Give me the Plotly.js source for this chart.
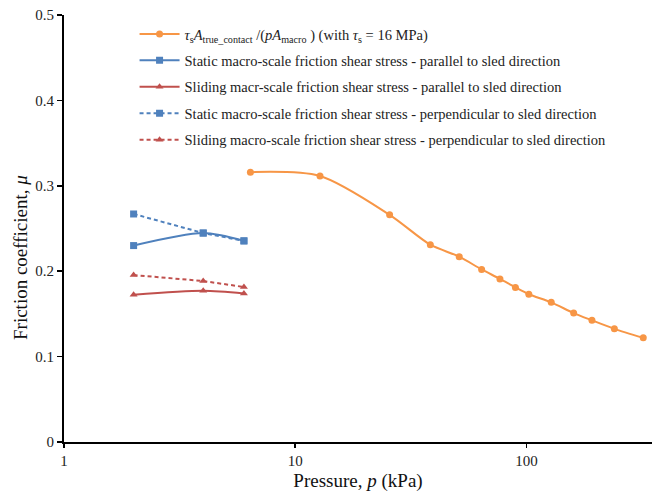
<!DOCTYPE html>
<html>
<head>
<meta charset="utf-8">
<script src="https://cdn.plot.ly/plotly-3.0.1.min.js"></script>
<style>
  html, body { margin: 0; padding: 0; background: #fff; }
  #chart { width: 652px; height: 497px; }
</style>
</head>
<body>
<div id="chart"></div>
<script>
// Pressure (kPa) and friction coefficient for the true-contact model
const modelPressure = [6.4, 12.8, 25.6, 38.4, 51.2, 64, 76.8, 89.6, 102.4, 128, 160, 192, 240, 320];
const modelMu = [0.316, 0.3115, 0.266, 0.231, 0.217, 0.202, 0.191, 0.181, 0.173, 0.1635, 0.151, 0.1425, 0.1325, 0.122];

// Sled test pressures (kPa)
const sledPressure = [2, 4, 6];
const staticParallel = [0.230, 0.2447, 0.2355];
const slidingParallel = [0.1725, 0.177, 0.174];
const staticPerpendicular = [0.267, 0.2447, 0.2355];
const slidingPerpendicular = [0.1955, 0.1885, 0.1815];

const seriesNames = [
  '<i>τ</i><sub>s</sub><i>A</i><sub>true_contact</sub> /(<i>pA</i><sub>macro</sub> ) (with <i>τ</i><sub>s</sub> = 16 MPa)',
  'Static macro-scale friction shear stress - parallel to sled direction',
  'Sliding macr-scale friction shear stress - parallel to sled direction',
  'Static macro-scale friction shear stress - perpendicular to sled direction',
  'Sliding macro-scale friction shear stress - perpendicular to sled direction'
];

const serif = 'Liberation Serif, Times New Roman, serif';
const orange = '#F79646';
const blue = '#4F81BD';
const red = '#C0504D';

const traces = [
  {
    x: modelPressure, y: modelMu, name: seriesNames[0], legendgroup: 'a',
    mode: 'lines+markers', line: {color: orange, width: 2, shape: 'spline', smoothing: 0.8},
    marker: {symbol: 'circle', size: 7, color: orange}
  },
  {
    x: sledPressure, y: staticParallel, name: seriesNames[1], legendgroup: 'b',
    mode: 'lines+markers', line: {color: blue, width: 2, shape: 'spline', smoothing: 0.8},
    marker: {symbol: 'square', size: 7, color: blue}
  },
  {
    x: sledPressure, y: slidingParallel, name: seriesNames[2], legendgroup: 'c',
    mode: 'lines+markers', line: {color: red, width: 2, shape: 'spline', smoothing: 0.8},
    marker: {symbol: 'triangle-up', size: 7, color: red}
  },
  {
    x: sledPressure, y: staticPerpendicular, name: seriesNames[3], legendgroup: 'd',
    mode: 'lines+markers', line: {color: blue, width: 2, dash: '4px,3px'},
    marker: {symbol: 'square', size: 7, color: blue}
  },
  {
    x: sledPressure, y: slidingPerpendicular, name: seriesNames[4], legendgroup: 'e',
    mode: 'lines+markers', line: {color: red, width: 2, dash: '4px,3px'},
    marker: {symbol: 'triangle-up', size: 7, color: red}
  }
];

const layout = {
  width: 652, height: 497,
  margin: {l: 64, r: 0, t: 15, b: 55},
  paper_bgcolor: '#fff', plot_bgcolor: '#fff',
  font: {family: serif, color: '#222', size: 14},
  showlegend: true,
  legend: {
    x: 0.12, y: 0.993, xanchor: 'left', yanchor: 'top',
    bgcolor: 'rgba(0,0,0,0)', borderwidth: 0,
    font: {family: serif, size: 14.5, color: '#222'},
    traceorder: 'grouped', tracegroupgap: 4.6, itemwidth: 40
  },
  xaxis: {
    type: 'log', range: [0, 2.543], autorange: false,
    tickvals: [1, 10, 100], ticktext: ['1', '10', '100'],
    showgrid: false, zeroline: false,
    showline: true, linecolor: '#000', linewidth: 2,
    ticks: 'outside', ticklen: 4, tickwidth: 1.5, tickcolor: '#000',
    tickfont: {family: serif, size: 15, color: '#222'},
    title: {text: 'Pressure, <i>p</i> (kPa)', font: {family: serif, size: 19, color: '#111'}, standoff: 6}
  },
  yaxis: {
    range: [0, 0.5], autorange: false,
    tickvals: [0, 0.1, 0.2, 0.3, 0.4, 0.5], ticktext: ['0', '0.1', '0.2', '0.3', '0.4', '0.5'],
    showgrid: false, zeroline: false,
    showline: true, linecolor: '#000', linewidth: 2,
    ticks: 'outside', ticklen: 5, tickwidth: 1.5, tickcolor: '#000',
    tickfont: {family: serif, size: 15, color: '#222'}
  },
  // y-axis title, set slightly below the middle of the axis
  annotations: [{
    text: 'Friction coefficient, <i>μ</i>',
    xref: 'paper', yref: 'paper', x: -0.075, y: 0.433,
    xanchor: 'center', yanchor: 'middle', textangle: -90, showarrow: false,
    font: {family: serif, size: 19, color: '#111'}
  }]
};

Plotly.newPlot('chart', traces, layout, {displayModeBar: false, staticPlot: true});
</script>
</body>
</html>
